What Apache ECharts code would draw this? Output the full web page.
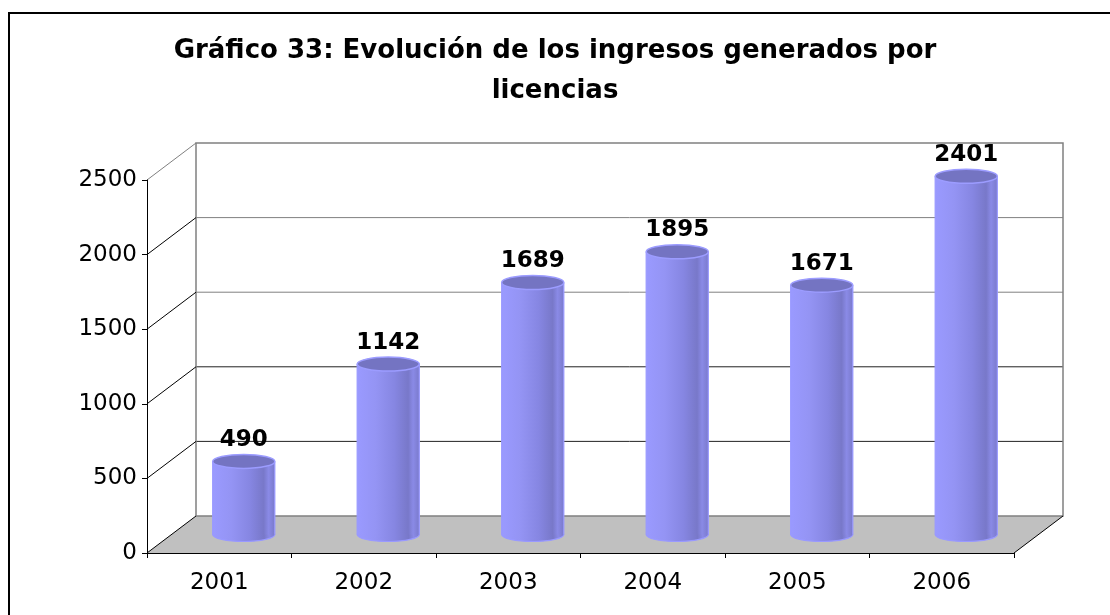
<!DOCTYPE html>
<html>
<head>
<meta charset="utf-8">
<title>Gráfico 33</title>
<script src="https://cdn.jsdelivr.net/npm/echarts@6/dist/echarts.min.js"></script>
<style>
  html, body { margin: 0; padding: 0; background: #fff; }
  #chart { width: 1110px; height: 615px; }
</style>
</head>
<body>
<div id="chart"></div>
<script>
var years = ['2001', '2002', '2003', '2004', '2005', '2006'];
var ingresos = [490, 1142, 1689, 1895, 1671, 2401];
var yTicks = [0, 500, 1000, 1500, 2000, 2500];

// depth of the fake 3d box (back wall offset)
var depthX = 49;
var depthY = -37;

var chartDom = document.getElementById('chart');
var myChart = echarts.init(chartDom);
var option;

function renderFrame(params, api) {
  var bw = api.size([1, 0])[0];
  var first = api.coord([0, 0]);
  var last = api.coord([years.length - 1, 0]);
  var xl = first[0] - bw / 2;
  var xr = last[0] + bw / 2;
  var y0 = first[1];
  var yTop = api.coord([0, yTicks[yTicks.length - 1]])[1];
  var children = [];

  // floor
  children.push({
    type: 'polygon',
    shape: { points: [[xl, y0], [xr, y0], [xr + depthX, y0 + depthY], [xl + depthX, y0 + depthY]] },
    style: { fill: '#c0c0c0', stroke: null }
  });
  // back wall grid lines
  for (var i = 1; i < yTicks.length - 1; i++) {
    var yv = api.coord([0, yTicks[i]])[1];
    children.push({
      type: 'line',
      shape: { x1: xl + depthX, y1: yv + depthY, x2: xr + depthX, y2: yv + depthY },
      style: { stroke: i < 3 ? '#222' : '#808080', lineWidth: 1 }
    });
  }
  // floor back edge, wall edges
  children.push({
    type: 'polyline',
    shape: { points: [[xl + depthX, y0 + depthY], [xr + depthX, y0 + depthY], [xr + depthX, yTop + depthY], [xl + depthX, yTop + depthY], [xl + depthX, y0 + depthY]] },
    style: { stroke: '#808080', lineWidth: 1.5, fill: null }
  });
  // diagonals from the y axis ticks to the back wall
  for (var j = 0; j < yTicks.length; j++) {
    var yy = api.coord([0, yTicks[j]])[1];
    children.push({
      type: 'line',
      shape: { x1: xl, y1: yy, x2: xl + depthX, y2: yy + depthY },
      style: { stroke: j == yTicks.length - 1 ? '#808080' : '#000', lineWidth: 1 }
    });
  }
  // right floor edge
  children.push({
    type: 'line',
    shape: { x1: xr, y1: y0, x2: xr + depthX, y2: y0 + depthY },
    style: { stroke: '#000', lineWidth: 1 }
  });
  return { type: 'group', children: children };
}

function renderCylinder(params, api) {
  var idx = api.value(0);
  var val = api.value(1);
  var bw = api.size([1, 0])[0];
  var base = api.coord([idx, 0]);
  var top = api.coord([idx, val]);
  var cx = base[0] + depthX / 2;
  var yb = base[1] + depthY / 2;
  var yt = top[1] + depthY / 2;
  var rx = bw * 0.215;
  var ry = 7;
  var bodyFill = new echarts.graphic.LinearGradient(0, 0, 1, 0, [
    { offset: 0, color: '#9a9aff' },
    { offset: 0.3, color: '#9494f4' },
    { offset: 0.6, color: '#8686e2' },
    { offset: 0.82, color: '#7878c9' },
    { offset: 0.9, color: '#8a8ae6' },
    { offset: 1, color: '#7a7acc' }
  ]);
  return {
    type: 'group',
    children: [
      {
        type: 'ellipse',
        shape: { cx: cx, cy: yb, rx: rx, ry: ry },
        style: { fill: bodyFill, stroke: '#9999ff', lineWidth: 1.2 }
      },
      {
        type: 'rect',
        shape: { x: cx - rx, y: yt, width: rx * 2, height: yb - yt },
        style: { fill: bodyFill }
      },
      {
        type: 'line',
        shape: { x1: cx - rx, y1: yt, x2: cx - rx, y2: yb },
        style: { stroke: '#9999ff', lineWidth: 1.2 }
      },
      {
        type: 'line',
        shape: { x1: cx + rx, y1: yt, x2: cx + rx, y2: yb },
        style: { stroke: '#9999ff', lineWidth: 1.2 }
      },
      {
        type: 'ellipse',
        shape: { cx: cx, cy: yt, rx: rx, ry: ry },
        style: { fill: '#7474c2', stroke: '#9c9cff', lineWidth: 1.5 }
      },
      {
        type: 'text',
        style: {
          text: String(val),
          x: cx,
          y: yt - ry - 3,
          align: 'center',
          verticalAlign: 'bottom',
          fill: '#000',
          font: 'bold 23px "DejaVu Sans"'
        }
      }
    ]
  };
}

option = {
  backgroundColor: '#fff',
  animation: false,
  title: {
    text: 'Gráfico 33: Evolución de los ingresos generados por\nlicencias',
    left: 'center',
    top: 26,
    textStyle: {
      fontFamily: 'DejaVu Sans',
      fontWeight: 'bold',
      fontSize: 26,
      lineHeight: 40,
      color: '#000'
    }
  },
  graphic: [
    {
      type: 'rect',
      shape: { x: 9, y: 13, width: 1200, height: 700 },
      style: { fill: null, stroke: '#000', lineWidth: 2 }
    }
  ],
  grid: {
    left: 147,
    right: 96,
    top: 180,
    bottom: 62
  },
  xAxis: {
    type: 'category',
    data: years,
    z: 10,
    axisLine: { lineStyle: { color: '#000', width: 1 } },
    axisTick: { show: true, length: 5, lineStyle: { color: '#000' } },
    axisLabel: {
      margin: 19,
      fontFamily: 'DejaVu Sans',
      fontSize: 23,
      color: '#000'
    }
  },
  yAxis: {
    type: 'value',
    min: 0,
    max: 2500,
    interval: 500,
    z: 10,
    axisLine: { show: true, lineStyle: { color: '#000', width: 1 } },
    axisTick: { show: true, length: 5, lineStyle: { color: '#000' } },
    splitLine: { show: false },
    axisLabel: {
      margin: 10,
      fontFamily: 'DejaVu Sans',
      fontSize: 23,
      color: '#000',
      formatter: function (v) { return String(v); }
    }
  },
  series: [
    {
      name: 'frame',
      type: 'custom',
      z: 1,
      silent: true,
      renderItem: renderFrame,
      data: [[0, 0]]
    },
    {
      name: 'Ingresos',
      type: 'custom',
      z: 3,
      renderItem: renderCylinder,
      data: ingresos.map(function (v, i) { return [i, v]; })
    }
  ]
};
myChart.setOption(option);
</script>
</body>
</html>
